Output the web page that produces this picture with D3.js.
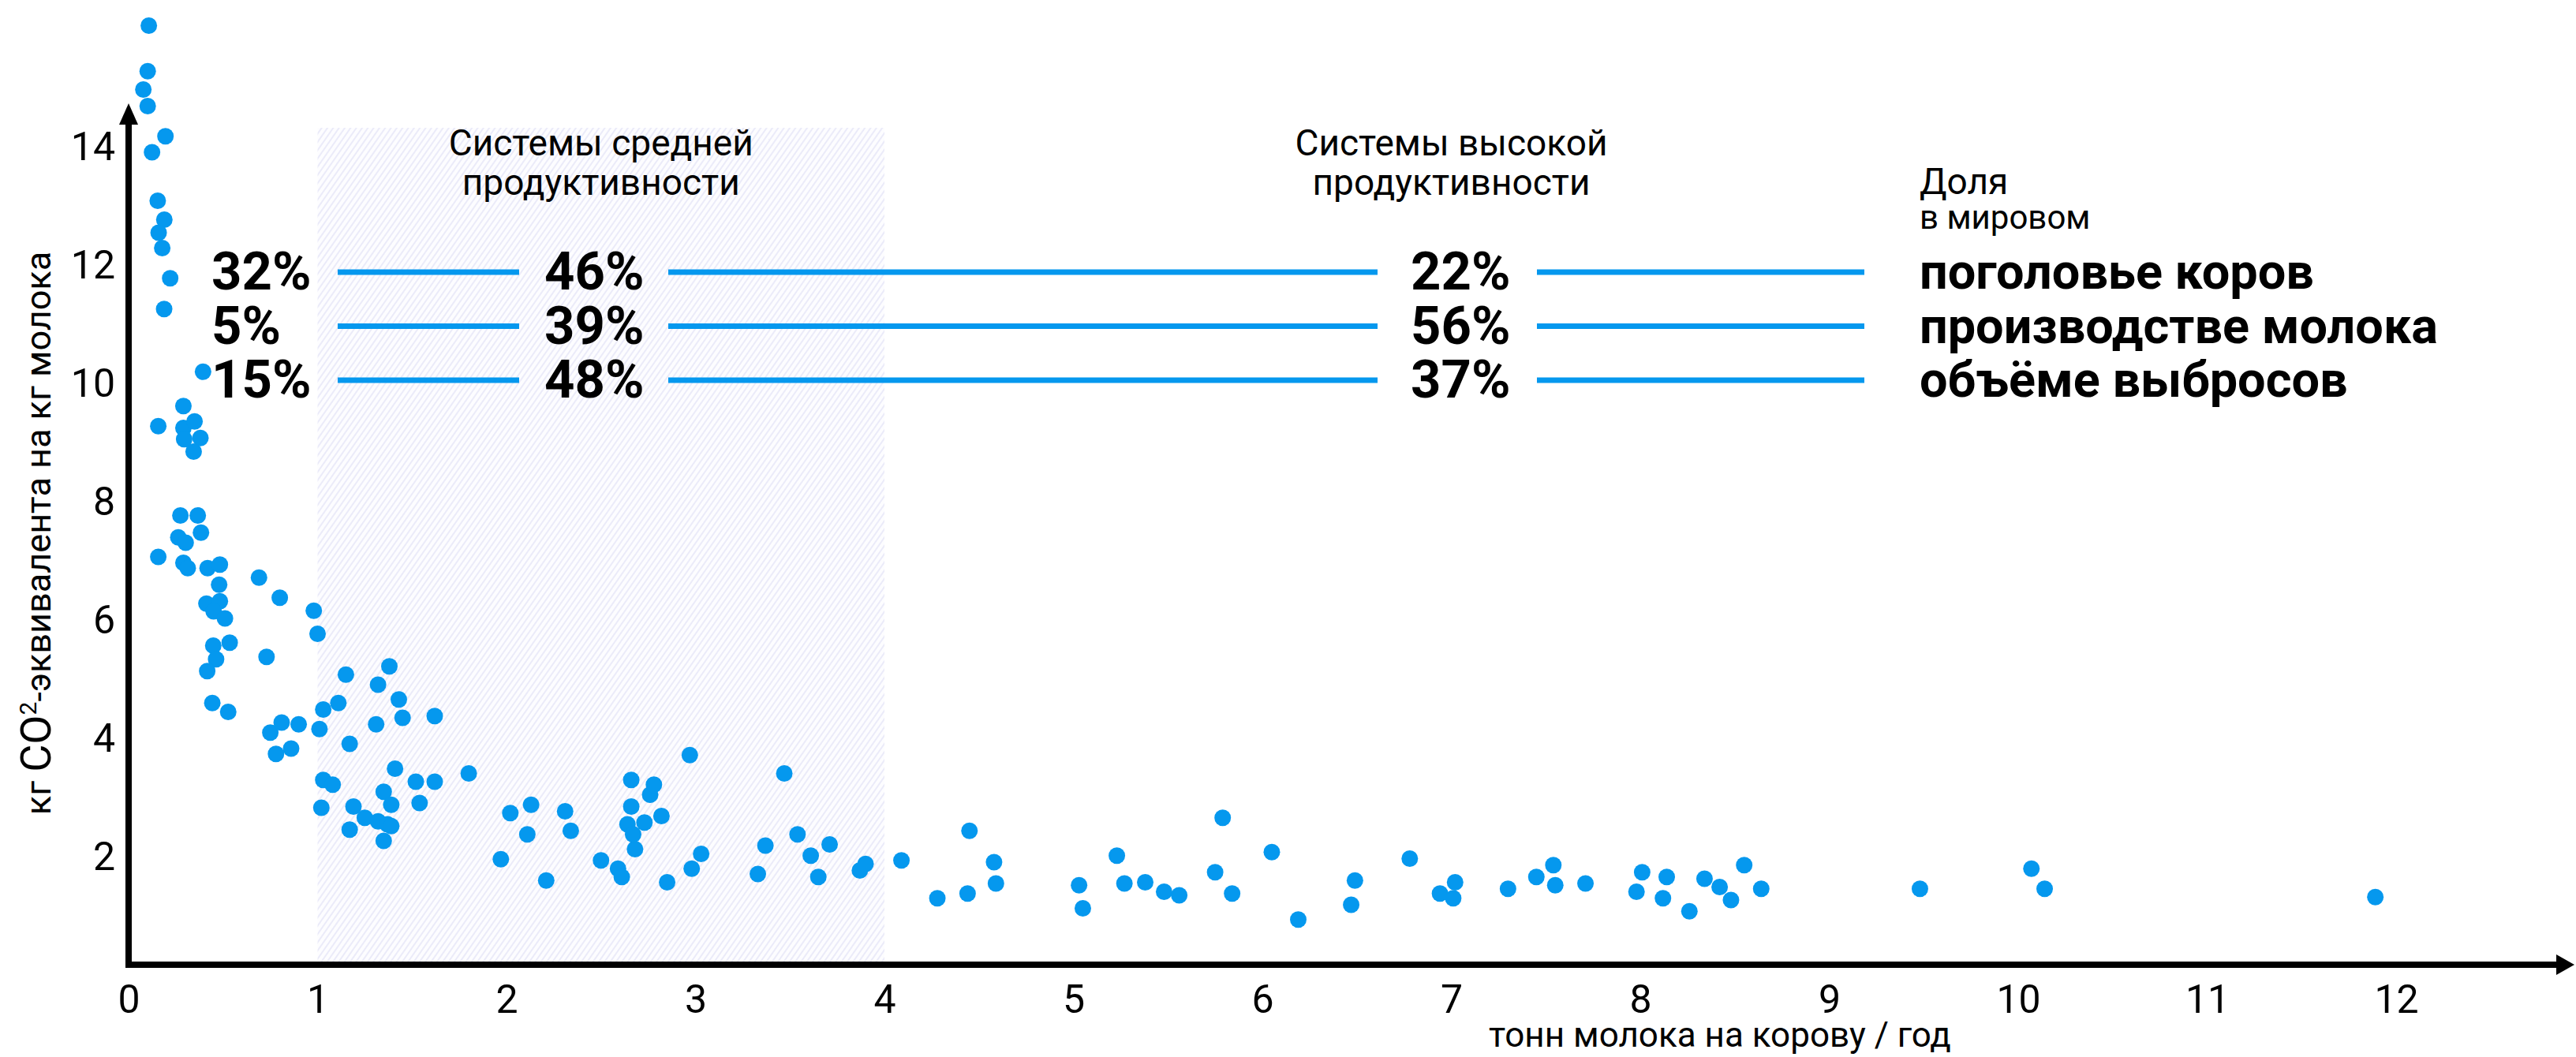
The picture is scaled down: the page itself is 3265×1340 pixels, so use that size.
<html>
<head>
<meta charset="utf-8">
<script src="https://d3js.org/d3.v7.min.js"></script>
<style>
  body { margin: 0; background: #fff; }
  text { font-family: Roboto, "Liberation Sans", sans-serif; fill: #000; }
</style>
</head>
<body>
<script>
    var W = 3265, H = 1340;
    var blue = "#0598ee";

    // milk yield (t per cow per year) and emission intensity (kg CO2-eq per kg milk)
    let milkYield = [
        0.107, 0.101, 0.078, 0.101, 0.195, 0.124, 0.154, 0.189, 0.159, 0.178,
        0.220, 0.188, 0.394, 0.290, 0.157, 0.290, 0.349, 0.294, 0.380, 0.344,
        0.274, 0.366, 0.263, 0.302, 0.383, 0.157, 0.290, 0.313, 0.418, 0.483,
        0.479, 0.412, 0.483, 0.450, 0.510, 0.448, 0.535, 0.463, 0.416, 0.443,
        0.527,
        0.69, 0.80, 0.73, 0.98, 1.00, 0.75, 0.81, 0.78, 0.86, 0.90,
        1.01, 1.03, 1.11, 1.15, 1.17, 1.03, 1.08, 1.02, 1.19, 1.17,
        1.25, 1.32, 1.38, 1.31, 1.43, 1.45, 1.41, 1.35, 1.39, 1.32,
        1.37, 1.35, 1.39, 1.52, 1.54, 1.62, 1.62, 1.80,
        1.97, 2.02, 2.13, 2.11, 2.21, 2.31, 2.34, 2.50, 2.59, 2.61,
        2.66, 2.66, 2.64, 2.68, 2.67, 2.76, 2.78, 2.82, 2.73, 2.85,
        2.97, 2.98, 3.03, 3.33, 3.37, 3.47, 3.54, 3.61, 3.65, 3.71,
        3.87, 3.90, 4.09, 4.28, 4.44, 4.45, 4.58, 4.59,
        5.03, 5.05, 5.23, 5.27, 5.38, 5.48, 5.56, 5.75, 5.79, 5.84,
        6.05, 6.19, 6.47, 6.49, 6.78, 6.94, 7.01, 7.02, 7.30, 7.45,
        7.54, 7.55, 7.71, 7.98, 8.01, 8.12, 8.14, 8.26, 8.34, 8.42,
        8.48, 8.55, 8.64, 9.48, 10.07, 10.14, 11.89
    ];
    let co2PerKg = [
        16.02, 15.25, 14.94, 14.66, 14.15, 13.88, 13.06, 12.74, 12.52, 12.26,
        11.75, 11.23, 10.17, 9.59, 9.25, 9.22, 9.33, 9.03, 9.05, 8.82,
        7.74, 7.74, 7.37, 7.28, 7.45, 7.04, 6.94, 6.85, 6.85, 6.91,
        6.57, 6.25, 6.29, 6.12, 6.00, 5.54, 5.59, 5.31, 5.11, 4.57,
        4.42,
        6.69, 6.35, 5.35, 6.13, 5.74, 4.07, 4.24, 3.71, 3.80, 4.21,
        4.13, 4.46, 4.57, 5.05, 3.88, 3.27, 3.19, 2.80, 2.82, 2.43,
        2.63, 4.88, 5.19, 4.21, 4.63, 4.32, 3.46, 3.07, 2.85, 2.57,
        2.52, 2.24, 2.49, 3.24, 2.88, 4.35, 3.24, 3.38,
        1.93, 2.71, 2.85, 2.35, 1.57, 2.74, 2.41, 1.91, 1.77, 1.63,
        3.27, 2.82, 2.52, 2.10, 2.35, 3.02, 3.19, 2.66, 2.55, 1.54,
        3.69, 1.77, 2.02, 1.68, 2.16, 3.38, 2.35, 1.99, 1.63, 2.18,
        1.74, 1.85, 1.91, 1.27, 1.35, 2.41, 1.88, 1.52,
        1.49, 1.10, 1.99, 1.52, 1.54, 1.38, 1.32, 1.71, 2.63, 1.35,
        2.05, 0.91, 1.16, 1.57, 1.94, 1.35, 1.27, 1.54, 1.43, 1.63,
        1.83, 1.49, 1.52, 1.38, 1.71, 1.27, 1.63, 1.05, 1.60, 1.46,
        1.24, 1.83, 1.43, 1.43, 1.77, 1.43, 1.29
    ];

    let xTicks = [0, 1, 2, 3, 4, 5, 6, 7, 8, 9, 10, 11, 12];
    let yTicks = [2, 4, 6, 8, 10, 12, 14];

    // productivity systems
    let midSystem = [1, 4];
    let systemTitles = [
        {x: 2.5, lines: ["Системы средней", "продуктивности"]},
        {x: 7.0, lines: ["Системы высокой", "продуктивности"]}
    ];

    // share in world totals, %
    let shareRows = ["поголовье коров", "производстве молока", "объёме выбросов"];
    let shareLow = [32, 5, 15];
    let shareMid = [46, 39, 48];
    let shareHigh = [22, 56, 37];

    let svg = d3.select("body").append("svg")
        .attr("width", W)
        .attr("height", H);

    let x = d3.scaleLinear().domain([0, 12]).range([163, 3037]);
    let y = d3.scaleLinear().domain([0, 14]).range([1234, 184]);

    // hatch pattern
    let pat = svg.append("defs").append("pattern")
        .attr("id", "hatch")
        .attr("patternUnits", "userSpaceOnUse")
        .attr("width", 6)
        .attr("height", 6)
        .attr("patternTransform", "rotate(35)");
    pat.append("rect").attr("width", 6).attr("height", 6).attr("fill", "#fdfdff");
    pat.append("line")
        .attr("x1", 1).attr("y1", 0).attr("x2", 1).attr("y2", 6)
        .attr("stroke", "#e6e6f7").attr("stroke-width", 1.5);

    svg.append("rect")
        .attr("x", x(midSystem[0]))
        .attr("y", 162)
        .attr("width", x(midSystem[1]) - x(midSystem[0]))
        .attr("height", 1221 - 162)
        .attr("fill", "url(#hatch)");

    // system titles
    systemTitles.forEach(function(t) {
        let tx = svg.append("text")
            .attr("x", x(t.x))
            .attr("y", 197)
            .attr("text-anchor", "middle")
            .style("font-size", "46px");
        t.lines.forEach(function(l, i) {
            tx.append("tspan").attr("x", x(t.x)).attr("dy", i == 0 ? 0 : 50).text(l);
        });
    });

    // legend title
    svg.append("text").attr("x", 2433).attr("y", 246).style("font-size", "46px").text("Доля");
    svg.append("text").attr("x", 2433).attr("y", 290).style("font-size", "42px").text("в мировом");

    // share rows
    let rowY = d3.scalePoint().domain(shareRows).range([345, 482]);
    let pctCols = [268, 690, 1788];
    let segs = [[428, 658], [847, 1746], [1948, 2363]];
    let shareCols = [shareLow, shareMid, shareHigh];

    shareRows.forEach(function(r, i) {
        let yy = rowY(r);
        segs.forEach(function(s) {
            svg.append("line")
                .attr("x1", s[0]).attr("x2", s[1])
                .attr("y1", yy).attr("y2", yy)
                .attr("stroke", blue).attr("stroke-width", 7);
        });
        shareCols.forEach(function(col, j) {
            svg.append("text")
                .attr("x", pctCols[j])
                .attr("y", yy + 22)
                .style("font-size", "67px")
                .style("font-weight", "bold")
                .text(col[i] + "%");
        });
        svg.append("text")
            .attr("x", 2433)
            .attr("y", yy + 21)
            .style("font-size", "63px")
            .style("font-weight", "bold")
            .text(r);
    });

    // points
    svg.append("g").selectAll("circle")
        .data(milkYield)
        .enter().append("circle")
        .attr("cx", d => x(d))
        .attr("cy", (d, i) => y(co2PerKg[i]))
        .attr("r", 10.5)
        .attr("fill", blue);

    // axes
    svg.append("line")
        .attr("x1", 159).attr("x2", 3242)
        .attr("y1", 1223).attr("y2", 1223)
        .attr("stroke", "#000").attr("stroke-width", 8);
    svg.append("path")
        .attr("d", "M3240,1210 L3263,1223 L3240,1236 Z")
        .attr("fill", "#000");
    svg.append("line")
        .attr("x1", 163).attr("x2", 163)
        .attr("y1", 1227).attr("y2", 155)
        .attr("stroke", "#000").attr("stroke-width", 8);
    svg.append("path")
        .attr("d", "M151,158 L163,131 L175,158 Z")
        .attr("fill", "#000");

    let xAxis = d3.axisBottom(x).tickValues(xTicks).tickSize(0).tickPadding(0);
    let gx = svg.append("g").attr("transform", "translate(0,1248)").call(xAxis);
    gx.select(".domain").remove();
    gx.selectAll("text").style("font-size", "50px").attr("dy", "0.71em").attr("y", 0)
        .style("font-family", "Roboto, sans-serif").attr("fill", "#000");

    let yAxis = d3.axisLeft(y).tickValues(yTicks).tickSize(0).tickPadding(0);
    let gy = svg.append("g").attr("transform", "translate(146,0)").call(yAxis);
    gy.select(".domain").remove();
    gy.selectAll("text").style("font-size", "50px").attr("dy", "0.36em")
        .style("font-family", "Roboto, sans-serif").attr("fill", "#000");

    // axis titles
    svg.append("text")
        .attr("x", 1887).attr("y", 1327)
        .style("font-size", "44px")
        .text("тонн молока на корову / год");

    let yt = svg.append("text")
        .attr("transform", "translate(64,676) rotate(-90)")
        .attr("text-anchor", "middle")
        .style("font-size", "45px");
    yt.append("tspan").text("кг ");
    yt.append("tspan").style("font-size", "54px").text("CO");
    yt.append("tspan").attr("dy", -18).style("font-size", "30px").text("2");
    yt.append("tspan").attr("dy", 18).text("-эквивалента на кг молока");
</script>
</body>
</html>
